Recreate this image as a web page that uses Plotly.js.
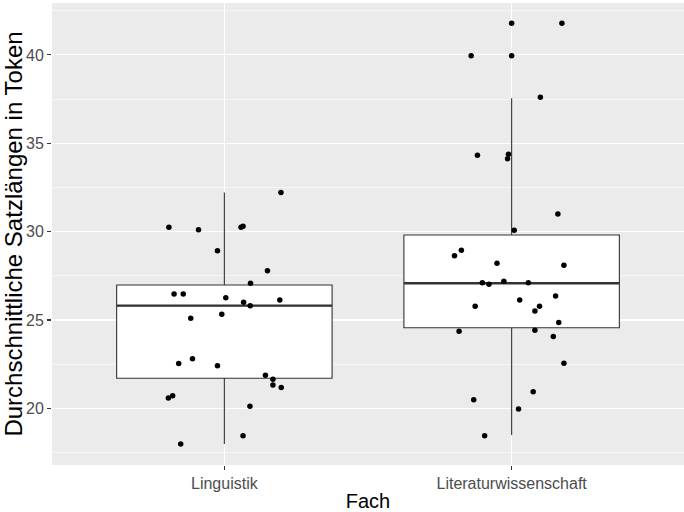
<!DOCTYPE html>
<html>
<head>
<meta charset="utf-8">
<script src="https://cdn.plot.ly/plotly-3.0.1.min.js"></script>
<style>html,body{margin:0;padding:0;background:#fff;}#chart{width:684px;height:512px;}</style>
</head>
<body>
<div id="chart"></div>
<script>
// Categories and tick labels
const categories = ["Linguistik", "Literaturwissenschaft"];
const categoryPos = [1, 2];

// Box statistics
const q1 = [21.70, 24.56];
const median = [25.81, 27.08];
const q3 = [26.98, 29.81];
const lowerWhisker = [17.98, 18.49];
const upperWhisker = [32.21, 37.55];

// Jittered observations: value and horizontal jitter offset (in category units)
const linguistikValues = [32.21, 30.25, 30.11, 30.25, 30.30, 28.91, 27.79, 27.08, 26.47, 26.47, 26.26, 26.13, 26.00, 25.80,
  25.10, 25.32, 22.53, 22.81, 22.41, 21.87, 21.64, 21.32, 21.17, 20.58, 20.71, 20.11, 18.45, 17.98];
const linguistikJitter = [0.197, -0.193, -0.090, 0.058, 0.065, -0.024, 0.150, 0.091, -0.175, -0.143, 0.005, 0.193, 0.067, 0.090,
  -0.117, -0.009, -0.159, -0.111, -0.024, 0.143, 0.169, 0.169, 0.198, -0.195, -0.180, 0.089, 0.065, -0.152];

const literaturValues = [41.80, 41.80, 39.96, 39.96, 37.60, 34.32, 34.38, 34.13, 31.00, 30.08, 28.64, 28.95, 28.21, 28.10,
  27.11, 27.02, 27.19, 27.11, 26.36, 26.13, 25.77, 25.51, 25.78, 24.85, 24.36, 24.42, 24.06, 22.55, 20.93, 20.49, 19.96, 18.45];
const literaturJitter = [0.000, 0.175, -0.141, 0.000, 0.100, -0.119, -0.011, -0.014, 0.161, 0.009, -0.199, -0.175, -0.051, 0.182,
  -0.102, -0.079, -0.027, 0.058, 0.153, 0.028, -0.127, 0.081, 0.097, 0.164, -0.183, 0.081, 0.145, 0.182, 0.075, -0.132, 0.024, -0.094];

const yTicks = [20, 25, 30, 35, 40];

const boxWidth = 0.75;
const font = "Liberation Sans, Arial, Helvetica, sans-serif";

const traces = [];
traces.push({
  type: "box",
  x: categoryPos,
  q1: q1, median: median, q3: q3,
  lowerfence: lowerWhisker, upperfence: upperWhisker,
  width: boxWidth,
  fillcolor: "#FFFFFF",
  line: {color: "#333333", width: 1.1},
  whiskerwidth: 0,
  boxpoints: false,
  hoverinfo: "skip",
  showlegend: false
});
// thicker median lines like ggplot
categoryPos.forEach((p, i) => {
  traces.push({
    type: "scatter", mode: "lines",
    x: [p - boxWidth / 2, p + boxWidth / 2],
    y: [median[i], median[i]],
    line: {color: "#333333", width: 2.4},
    hoverinfo: "skip", showlegend: false
  });
});
const jit = [[linguistikValues, linguistikJitter], [literaturValues, literaturJitter]];
jit.forEach(([vals, jt], i) => {
  traces.push({
    type: "scatter", mode: "markers",
    x: jt.map(d => categoryPos[i] + d),
    y: vals,
    marker: {color: "#000000", size: 5.5},
    hoverinfo: "skip", showlegend: false
  });
});

const layout = {
  width: 684, height: 512,
  margin: {l: 52, r: 0, t: 3, b: 47},
  paper_bgcolor: "#FFFFFF",
  plot_bgcolor: "#EBEBEB",
  font: {family: font, color: "#4D4D4D"},
  showlegend: false,
  xaxis: {
    range: [0.4, 2.6],
    tickvals: categoryPos,
    ticktext: categories,
    showgrid: true, gridcolor: "#FFFFFF", gridwidth: 1.1,
    zeroline: false, showline: false,
    ticks: "outside", ticklen: 4, tickwidth: 1.1, tickcolor: "#333333",
    tickfont: {size: 16, color: "#4D4D4D", family: font},
    title: {text: "Fach", font: {size: 20, color: "#000000", family: font}, standoff: 4},
    automargin: false
  },
  yaxis: {
    range: [16.79, 42.94],
    tickvals: yTicks,
    ticktext: yTicks.map(String),
    showgrid: true, gridcolor: "#FFFFFF", gridwidth: 1.1,
    minor: {tick0: 17.5, dtick: 5, showgrid: true, gridcolor: "#FFFFFF", gridwidth: 0.55, ticks: ""},
    zeroline: false, showline: false,
    ticks: "outside", ticklen: 4, tickwidth: 1.1, tickcolor: "#333333",
    tickfont: {size: 16, color: "#4D4D4D", family: font},
    title: {text: "Durchschnittliche Satzlängen in Token", font: {size: 24, color: "#000000", family: font}, standoff: 4},
    automargin: false
  }
};

Plotly.newPlot("chart", traces, layout, {staticPlot: true, displayModeBar: false});
</script>
</body>
</html>
